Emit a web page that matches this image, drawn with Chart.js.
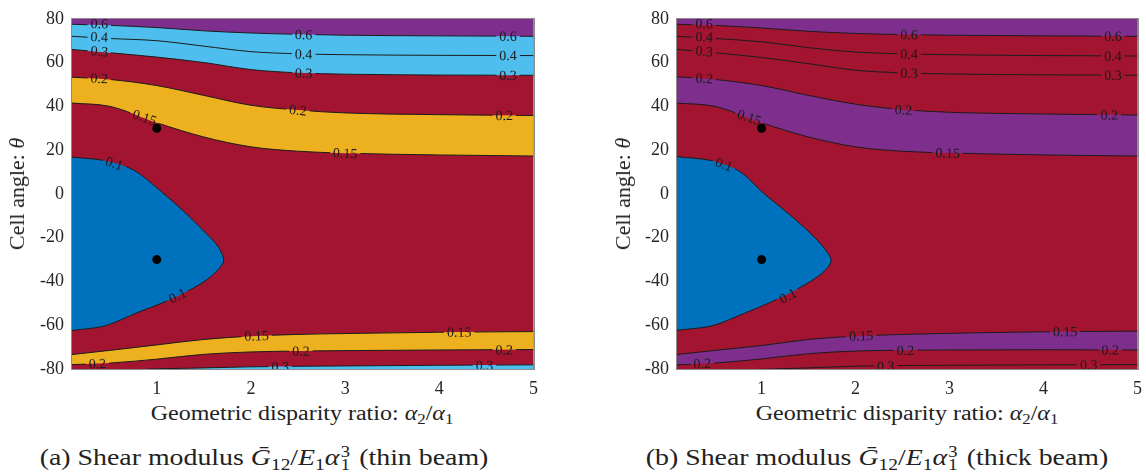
<!DOCTYPE html>
<html lang="en">
<head>
<meta charset="UTF-8">
<title>Shear modulus contours</title>
<style>
  body { margin: 0; background: #fff; }
  #page { position: relative; width: 1146px; height: 476px; overflow: hidden;
          font-family: "Liberation Serif", serif; color: #222; }
  .chart-box { position: absolute; top: 0; height: 400px; width: 547px; }
  .ytitle { position: absolute; top: 194px; font-size: 20px; line-height: 1; font-weight: normal;
            transform: translate(-50%, -50%) rotate(-90deg) scaleX(1.1); white-space: nowrap; }
  .xtitle { position: absolute; top: 403px; font-size: 20px; line-height: 1;
            transform: translateX(-50%) scaleX(1.2); white-space: nowrap; }
  .caption { position: absolute; top: 445px; font-size: 24px; line-height: 1;
             transform: translateX(-50%) scaleX(1.16); white-space: nowrap; }
  sub { font-size: 0.7em; vertical-align: -0.3em; line-height: 0; }
  .ss { display: inline-block; position: relative; width: 11px; height: 16px; }
  .ss span { position: absolute; left: 1px; font-size: 16px; line-height: 1; }
  .ss .up { top: -5px; }
  .ss .dn { top: 8px; }
</style>
</head>
<body>
<div id="page">
  <div class="chart-box" style="left:0"><canvas id="thin"></canvas></div>
  <div class="chart-box" style="left:604px"><canvas id="thick"></canvas></div>

  <div class="ytitle" style="left:17px">Cell angle: <i>θ</i></div>
  <div class="ytitle" style="left:623px">Cell angle: <i>θ</i></div>
  <div class="xtitle" style="left:302px">Geometric disparity ratio: <i>α</i><sub>2</sub>/<i>α</i><sub>1</sub></div>
  <div class="xtitle" style="left:907px">Geometric disparity ratio: <i>α</i><sub>2</sub>/<i>α</i><sub>1</sub></div>
  <div class="caption" style="left:264px">(a) Shear modulus <i>Ḡ</i><sub>12</sub>/<i>E</i><sub>1</sub><i>α</i><span class="ss"><span class="up">3</span><span class="dn">1</span></span> (thin beam)</div>
  <div class="caption" style="left:877px">(b) Shear modulus <i>Ḡ</i><sub>12</sub>/<i>E</i><sub>1</sub><i>α</i><span class="ss"><span class="up">3</span><span class="dn">1</span></span> (thick beam)</div>
</div>

<script src="https://cdn.jsdelivr.net/npm/chart.js"></script>
<script>
// axes
const xTicks = [1, 2, 3, 4, 5];
const yTicks = [-80, -60, -40, -20, 0, 20, 40, 60, 80];

// contour levels sampled at these ratios (theta in degrees)
const contourX = [0.1, 0.5, 1, 1.5, 2, 2.5, 3, 4, 5];
const bot03X = [0.9, 1.5, 2, 3, 4, 5];

// thin beam
const thin06     = [77.5, 77, 76, 74.5, 73.5, 72.9, 72.5, 72.2, 72];
const thin04     = [72, 71, 70, 67.5, 65, 64, 63.6, 63.3, 63.2];
const thin03     = [66, 64.5, 62.5, 60, 56.8, 55.3, 54.7, 54.3, 54.2];
const thin02Top  = [53.3, 52.3, 49.5, 45, 40.5, 38.3, 37, 36.2, 35.8];
const thin015Top = [41.5, 40, 32.5, 26, 21.5, 19.5, 18.6, 17.8, 17.3];
const thin015Bot = [-73.4, -71.5, -69, -66.5, -65, -64.2, -63.8, -63.2, -62.9];
const thin02Bot  = [-78, -77.3, -75.5, -73.3, -72.2, -71.8, -71.6, -71.3, -71.1];
const thin03Bot  = [-80, -79.5, -79, -78.6, -78.3, -78.1];
const thinLoopX  = [0.1, 0.45, 0.75, 1.05, 1.3, 1.5, 1.65, 1.71, 1.62, 1.45, 1.13, 0.78, 0.45, 0.1];
const thinLoopY  = [16.8, 15.2, 11, 1, -8.5, -17, -24, -30.5, -36, -41.5, -48.5, -54.5, -60.3, -62.4];

// thick beam
const thick06     = [77.5, 77, 75.8, 74.3, 73.3, 72.8, 72.5, 72.2, 72];
const thick04     = [72, 71, 69.5, 66.8, 64.8, 64, 63.6, 63.2, 63];
const thick03     = [66, 64.5, 62.3, 59.5, 56.5, 55.3, 54.8, 54.4, 54.2];
const thick02Top  = [53.5, 52.3, 49.5, 45, 41, 38.5, 37.3, 36.5, 36];
const thick015Top = [41.5, 40, 32.5, 26, 21.5, 19.5, 18.7, 17.8, 17.3];
const thick015Bot = [-73.4, -71.5, -69.3, -66.5, -65, -64.2, -63.7, -63, -62.7];
const thick02Bot  = [-78.1, -77.3, -75.4, -73, -71.8, -71.4, -71.3, -71.2, -71.3];
const thick03Bot  = [-80.3, -79.5, -78.7, -78.3, -78.1, -78];
const thickLoopX  = [0.1, 0.47, 0.76, 1.03, 1.3, 1.52, 1.67, 1.74, 1.65, 1.48, 1.17, 0.82, 0.47, 0.1];
const thickLoopY  = [17, 15.2, 10.5, 0, -9.5, -18, -25, -30.6, -36, -41, -48, -54.5, -60.3, -62.3];

// inline level labels: [text, ratio, theta]
const thinLabels = [
  ['0.6', 0.39, 77.8], ['0.6', 2.56, 72.8], ['0.6', 4.73, 72.1],
  ['0.4', 0.39, 71.8], ['0.4', 2.56, 63.9], ['0.4', 4.73, 63.3],
  ['0.3', 0.39, 65.2], ['0.3', 2.56, 55.2], ['0.3', 4.73, 54.2],
  ['0.2', 0.39, 52.8], ['0.2', 2.5, 38.3], ['0.2', 4.69, 35.9],
  ['0.15', 0.87, 35], ['0.15', 3.0, 18.6],
  ['0.1', 0.55, 14], ['0.1', 1.22, -46.5],
  ['0.15', 2.06, -64.8], ['0.15', 4.21, -63.1],
  ['0.2', 0.37, -77.5], ['0.2', 2.53, -71.8], ['0.2', 4.69, -71.2],
  ['0.3', 2.31, -78.9], ['0.3', 4.48, -78.3]
];
const thickLabels = [
  ['0.6', 0.39, 77.8], ['0.6', 2.57, 72.8], ['0.6', 4.74, 72.1],
  ['0.4', 0.39, 71.8], ['0.4', 2.57, 63.9], ['0.4', 4.74, 63.1],
  ['0.3', 0.39, 65.2], ['0.3', 2.57, 55.2], ['0.3', 4.74, 54.3],
  ['0.2', 0.39, 52.8], ['0.2', 2.51, 38.4], ['0.2', 4.7, 36.1],
  ['0.15', 0.87, 35], ['0.15', 2.98, 18.7],
  ['0.1', 0.6, 13.5], ['0.1', 1.28, -46.5],
  ['0.15', 2.06, -64.8], ['0.15', 4.23, -62.9],
  ['0.2', 0.37, -77.5], ['0.2', 2.53, -71.5], ['0.2', 4.71, -71.2],
  ['0.3', 2.32, -78.7], ['0.3', 4.48, -78.1]
];

// design points
const markerX = [1, 1];
const markerY = [30, -30];

const RED = '#a2142f', BLUE = '#0072bd', SKY = '#4dbeee', GOLD = '#edb120', PURPLE = '#7e2f8e';
const LINE = '#1c1c1c';
const SERIF = '"Liberation Serif", serif';
const LABEL_FONT = '14px ' + SERIF;

function pts(xs, ys) {
  return xs.map((x, i) => ({ x: x, y: ys[i] }));
}

function contour(level, xs, ys, fill, color) {
  return {
    level: level, data: pts(xs, ys), fill: fill, backgroundColor: color || 'transparent',
    borderColor: LINE, borderWidth: 1, pointRadius: 0,
    cubicInterpolationMode: 'monotone'
  };
}

function loop(level, xs, ys, color) {
  return {
    level: level, data: pts(xs, ys), fill: 'shape', backgroundColor: color,
    borderColor: LINE, borderWidth: 1, pointRadius: 0, tension: 0.3
  };
}

function segDist(px, py, a, b) {
  const dx = b.x - a.x, dy = b.y - a.y;
  const len = dx * dx + dy * dy || 1;
  let t = ((px - a.x) * dx + (py - a.y) * dy) / len;
  t = Math.max(0, Math.min(1, t));
  return Math.hypot(px - (a.x + t * dx), py - (a.y + t * dy));
}

// fills the plot area with the base band colour and frames it
const bandBase = {
  id: 'bandBase',
  beforeDatasetsDraw(chart) {
    const { ctx, chartArea: a } = chart;
    ctx.save();
    ctx.fillStyle = RED;
    ctx.fillRect(a.left, a.top, a.width, a.height);
    ctx.restore();
  },
  afterDraw(chart) {
    const { ctx, chartArea: a } = chart;
    ctx.save();
    ctx.strokeStyle = '#8c8c8c';
    ctx.lineWidth = 1;
    ctx.strokeRect(Math.round(a.left) - 0.5, Math.round(a.top) - 0.5,
                   Math.round(a.width) + 1, Math.round(a.height) + 1);
    ctx.restore();
  }
};

// clabel-style text: breaks the contour line and writes the level along it
function levelLabels(items) {
  return {
    id: 'levelLabels',
    beforeDatasetsDraw(chart) {
      const ctx = chart.ctx;
      ctx.save();
      ctx.font = LABEL_FONT;
      chart.$labels = items.map(([text, x, y]) => {
        const px = chart.scales.x.getPixelForValue(x);
        const py = chart.scales.y.getPixelForValue(y);
        let best = null;
        chart.data.datasets.forEach((ds, di) => {
          if (ds.level !== text) return;
          const p = chart.getDatasetMeta(di).data;
          for (let i = 0; i < p.length - 1; i++) {
            const d = segDist(px, py, p[i], p[i + 1]);
            if (!best || d < best.d) best = { d: d, a: p[i], b: p[i + 1] };
          }
        });
        let ang = best ? Math.atan2(best.b.y - best.a.y, best.b.x - best.a.x) : 0;
        if (ang > Math.PI / 2) ang -= Math.PI;
        if (ang < -Math.PI / 2) ang += Math.PI;
        return { text: text, px: px, py: py, ang: ang, w: ctx.measureText(text).width };
      });
      ctx.restore();
    },
    beforeDatasetDraw(chart, args) {
      const ds = chart.data.datasets[args.index];
      if (!ds.level) return;
      const ctx = chart.ctx;
      ctx.save();
      ctx.beginPath();
      ctx.rect(0, 0, chart.width, chart.height);
      for (const lb of chart.$labels) {
        if (lb.text !== ds.level) continue;
        const hw = lb.w / 2 + 3, hh = 6;
        const c = Math.cos(lb.ang), s = Math.sin(lb.ang);
        [[-hw, -hh], [hw, -hh], [hw, hh], [-hw, hh]].forEach(([u, v], k) => {
          const X = lb.px + u * c - v * s, Y = lb.py + u * s + v * c;
          if (k) ctx.lineTo(X, Y); else ctx.moveTo(X, Y);
        });
        ctx.closePath();
      }
      ctx.clip('evenodd');
    },
    afterDatasetDraw(chart, args) {
      if (chart.data.datasets[args.index].level) chart.ctx.restore();
    },
    afterDatasetsDraw(chart) {
      const { ctx, chartArea: a } = chart;
      ctx.save();
      ctx.beginPath();
      ctx.rect(a.left, a.top, a.width, a.height);
      ctx.clip();
      ctx.font = LABEL_FONT;
      ctx.fillStyle = '#1a1a1a';
      ctx.textAlign = 'center';
      ctx.textBaseline = 'middle';
      for (const lb of chart.$labels) {
        ctx.save();
        ctx.translate(lb.px, lb.py);
        ctx.rotate(lb.ang);
        ctx.fillText(lb.text, 0, 1);
        ctx.restore();
      }
      ctx.restore();
    }
  };
}

function makeChart(id, layers, labels, axisWidth) {
  // layers are listed in painting order; Chart.js paints the last dataset first
  const markers = {
    data: pts(markerX, markerY), showLine: false, pointRadius: 4.5,
    pointBackgroundColor: '#000', pointBorderWidth: 0
  };
  const tickFont = { family: SERIF, size: 18 };
  return new Chart(document.getElementById(id), {
    type: 'line',
    data: { datasets: [markers].concat(layers.slice().reverse()) },
    options: {
      responsive: true,
      maintainAspectRatio: false,
      animation: false,
      events: [],
      // right side is set by the x scale: half of the "5" label plus tick padding
      layout: { padding: { top: 17, right: 0, left: 0, bottom: 0 } },
      plugins: { legend: { display: false }, tooltip: { enabled: false } },
      scales: {
        x: {
          type: 'linear', min: 0.1, max: 5,
          grid: { display: false, drawTicks: false }, border: { display: false },
          afterBuildTicks: s => { s.ticks = xTicks.map(v => ({ value: v })); },
          afterFit: s => { s.height = 31; },
          ticks: { font: tickFont, color: '#262626', padding: 9, maxRotation: 0 }
        },
        y: {
          type: 'linear', min: -80, max: 80,
          grid: { display: false, drawTicks: false }, border: { display: false },
          afterBuildTicks: s => { s.ticks = yTicks.map(v => ({ value: v })); },
          afterFit: s => { s.width = axisWidth; },
          ticks: { font: tickFont, color: '#262626', padding: 8 }
        }
      }
    },
    plugins: [bandBase, levelLabels(labels)]
  });
}

document.addEventListener('DOMContentLoaded', function () {
  makeChart('thin', [
    contour('0.15', contourX, thin015Top, 'end', GOLD),
    contour('0.2', contourX, thin02Top, 'end', RED),
    contour('0.3', contourX, thin03, 'end', SKY),
    contour('0.4', contourX, thin04, false),
    contour('0.6', contourX, thin06, 'end', PURPLE),
    contour('0.15', contourX, thin015Bot, 'start', GOLD),
    contour('0.2', contourX, thin02Bot, 'start', RED),
    contour('0.3', bot03X, thin03Bot, 'start', SKY),
    loop('0.1', thinLoopX, thinLoopY, BLUE)
  ], thinLabels, 72);

  makeChart('thick', [
    contour('0.15', contourX, thick015Top, 'end', PURPLE),
    contour('0.2', contourX, thick02Top, 'end', RED),
    contour('0.3', contourX, thick03, false),
    contour('0.4', contourX, thick04, false),
    contour('0.6', contourX, thick06, 'end', PURPLE),
    contour('0.15', contourX, thick015Bot, 'start', PURPLE),
    contour('0.2', contourX, thick02Bot, 'start', RED),
    contour('0.3', bot03X, thick03Bot, false),
    loop('0.1', thickLoopX, thickLoopY, BLUE)
  ], thickLabels, 73);
});
</script>
</body>
</html>
